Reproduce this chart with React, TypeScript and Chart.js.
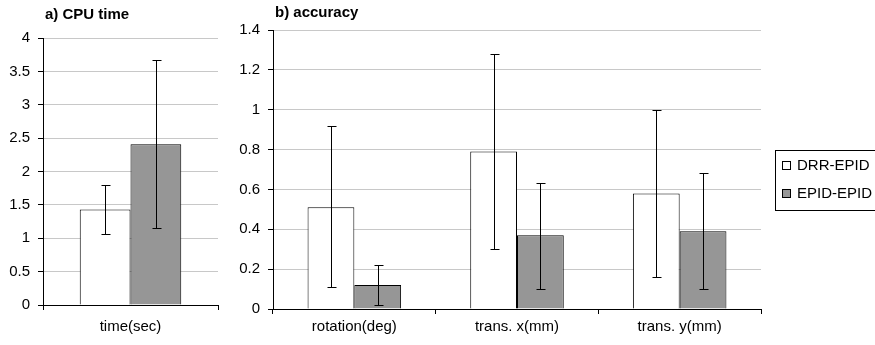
import React, { useEffect, useRef } from "react";
import { Chart, registerables } from "chart.js";

Chart.register(...registerables);

// ---- data ----
const cpuCategories = ["time(sec)"];
const cpuDrr = [1.43];
const cpuDrrLow = [1.06];
const cpuDrrHigh = [1.8];
const cpuEpid = [2.41];
const cpuEpidLow = [1.15];
const cpuEpidHigh = [3.67];

const accCategories = ["rotation(deg)", "trans. x(mm)", "trans. y(mm)"];
const accDrr = [0.51, 0.79, 0.58];
const accDrrLow = [0.11, 0.3, 0.16];
const accDrrHigh = [0.92, 1.28, 1.0];
const accEpid = [0.12, 0.37, 0.39];
const accEpidLow = [0.02, 0.1, 0.1];
const accEpidHigh = [0.22, 0.63, 0.68];

const seriesNames = ["DRR-EPID", "EPID-EPID"];
const seriesColors = ["#ffffff", "#969696"];

const FONT = "'Liberation Sans', Arial, sans-serif";
const FS = 15;

const errorBarPlugin = {
  id: "errorBars",
  afterDatasetsDraw(chart: any) {
    const ctx = chart.ctx;
    const yScale = chart.scales.y;
    ctx.save();
    ctx.strokeStyle = "#000";
    ctx.lineWidth = 1;
    chart.data.datasets.forEach((ds: any, di: number) => {
      const meta = chart.getDatasetMeta(di);
      meta.data.forEach((el: any, i: number) => {
        const lo = ds.errLow[i];
        const hi = ds.errHigh[i];
        const x = Math.round(el.x) + 0.5;
        const y1 = Math.round(yScale.getPixelForValue(lo)) + 0.5;
        const y2 = Math.round(yScale.getPixelForValue(hi)) + 0.5;
        ctx.beginPath();
        ctx.moveTo(x, y1);
        ctx.lineTo(x, y2);
        ctx.moveTo(x - 4, y1);
        ctx.lineTo(x + 5, y1);
        ctx.moveTo(x - 4, y2);
        ctx.lineTo(x + 5, y2);
        ctx.stroke();
      });
    });
    ctx.restore();
  },
};

const titlePlugin = {
  id: "panelTitle",
  afterDraw(chart: any, _args: any, opts: any) {
    const ctx = chart.ctx;
    ctx.save();
    ctx.font = `bold ${FS}px ${FONT}`;
    ctx.fillStyle = "#000";
    ctx.textBaseline = "middle";
    ctx.textAlign = "left";
    ctx.fillText(opts.text, opts.x, opts.y);
    ctx.restore();
  },
};

const boxLegendPlugin = {
  id: "boxLegend",
  afterDraw(chart: any, _args: any, opts: any) {
    if (!opts || !opts.show) return;
    const ctx = chart.ctx;
    ctx.save();
    ctx.strokeStyle = "#000";
    ctx.lineWidth = 1;
    const bx = opts.x;
    const by = opts.y;
    ctx.strokeRect(bx + 0.5, by + 0.5, opts.w, opts.h);
    ctx.font = `${FS}px ${FONT}`;
    ctx.textBaseline = "middle";
    ctx.textAlign = "left";
    chart.data.datasets.forEach((ds: any, i: number) => {
      const cy = by + 16 + i * 28;
      ctx.fillStyle = ds.backgroundColor;
      ctx.fillRect(bx + 7.5, cy - 4.5, 8, 8);
      ctx.strokeRect(bx + 7.5, cy - 4.5, 8, 8);
      ctx.fillStyle = "#000";
      ctx.fillText(ds.label, bx + 22, cy);
    });
    ctx.restore();
  },
};

const fmt = (v: any) => String(Math.round(Number(v) * 10) / 10);

function makeOptions(
  yMax: number,
  yStep: number,
  yWidth: number,
  xHeight: number,
  xPad: number,
  pad: any,
  catPct: number,
  title: any,
  legend: any
) {
  return {
    responsive: false,
    animation: false,
    layout: { padding: pad },
    plugins: {
      legend: { display: false },
      tooltip: { enabled: false },
      panelTitle: title,
      boxLegend: legend,
    },
    datasets: { bar: { categoryPercentage: catPct, barPercentage: 1 } },
    scales: {
      x: {
        offset: true,
        grid: {
          offset: true,
          drawOnChartArea: false,
          drawTicks: true,
          tickLength: 5,
          tickColor: "#000",
        },
        border: { display: true, color: "#000", width: 1 },
        ticks: { color: "#000", font: { family: FONT, size: FS }, padding: xPad },
        afterFit(scale: any) {
          scale.height = xHeight;
        },
      },
      y: {
        min: 0,
        max: yMax,
        ticks: {
          stepSize: yStep,
          color: "#000",
          font: { family: FONT, size: FS },
          padding: 8,
          callback: fmt,
        },
        grid: {
          color: "#c8c8c8",
          tickColor: "#000",
          tickLength: 5,
          drawTicks: true,
        },
        border: { display: true, color: "#000", width: 1 },
        afterFit(scale: any) {
          scale.width = yWidth;
        },
      },
    },
  };
}

function makeDatasets(
  d1: number[],
  l1: number[],
  h1: number[],
  d2: number[],
  l2: number[],
  h2: number[]
) {
  return [
    {
      label: seriesNames[0],
      data: d1,
      errLow: l1,
      errHigh: h1,
      backgroundColor: seriesColors[0],
      borderColor: "#000",
      borderWidth: 1,
    },
    {
      label: seriesNames[1],
      data: d2,
      errLow: l2,
      errHigh: h2,
      backgroundColor: seriesColors[1],
      borderColor: "#000",
      borderWidth: 1,
    },
  ];
}

export default function App() {
  const refA = useRef<HTMLCanvasElement>(null);
  const refB = useRef<HTMLCanvasElement>(null);

  useEffect(() => {
    const chartA = new Chart(refA.current as HTMLCanvasElement, {
      type: "bar",
      data: {
        labels: cpuCategories,
        datasets: makeDatasets(cpuDrr, cpuDrrLow, cpuDrrHigh, cpuEpid, cpuEpidLow, cpuEpidHigh) as any,
      },
      options: makeOptions(
        4,
        0.5,
        43,
        40,
        8,
        { top: 38, right: 4, left: 0, bottom: 0 },
        0.58,
        { text: "a) CPU time", x: 45, y: 15 },
        { show: false }
      ) as any,
      plugins: [errorBarPlugin, titlePlugin, boxLegendPlugin],
    });
    const chartB = new Chart(refB.current as HTMLCanvasElement, {
      type: "bar",
      data: {
        labels: accCategories,
        datasets: makeDatasets(accDrr, accDrrLow, accDrrHigh, accEpid, accEpidLow, accEpidHigh) as any,
      },
      options: makeOptions(
        1.4,
        0.2,
        51,
        36,
        4,
        { top: 30, right: 114, left: 0, bottom: 0 },
        0.575,
        { text: "b) accuracy", x: 53, y: 13 },
        { show: true, x: 553, y: 150, w: 130, h: 60 }
      ) as any,
      plugins: [errorBarPlugin, titlePlugin, boxLegendPlugin],
    });
    return () => {
      chartA.destroy();
      chartB.destroy();
    };
  }, []);

  return (
    <div
      style={{
        position: "absolute",
        left: 0,
        top: 0,
        width: 875,
        height: 345,
        background: "#fff",
        overflow: "hidden",
      }}
    >
      <canvas
        ref={refA}
        width={222}
        height={345}
        style={{ position: "absolute", left: 0, top: 0, width: 222, height: 345 }}
      />
      <canvas
        ref={refB}
        width={653}
        height={345}
        style={{ position: "absolute", left: 222, top: 0, width: 653, height: 345 }}
      />
    </div>
  );
}
